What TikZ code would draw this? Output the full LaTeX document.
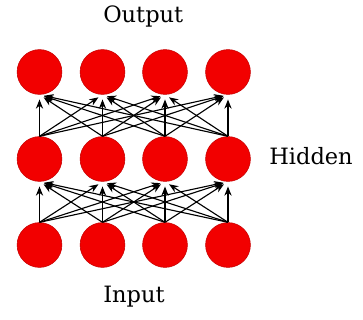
\documentclass[tikz,border=0pt]{standalone}
\usepackage{fontspec}
\setmainfont{DejaVu Serif}
\usetikzlibrary{arrows.meta}
\definecolor{unitred}{HTML}{F20000}
\definecolor{unitedge}{HTML}{C80000}

\begin{document}
\begin{tikzpicture}[
  x=0.025cm, y=-0.025cm,
  >={Stealth[length=2.3mm, width=1.8mm]},
  unit/.style={circle, draw=unitedge, line width=0.4pt, fill=unitred,
    minimum size=1.12cm, inner sep=0pt},
  wire/.style={->, line width=0.8pt, black, shorten >=1.2mm},
  lbl/.style={font=\fontsize{16}{18}\selectfont, text=black, inner sep=0pt},
]

\useasboundingbox (0,0) rectangle (363,320);

% === Units: o = output, h = hidden, i = input ===
\foreach \k/\x in {1/39.5, 2/102.5, 3/165, 4/228} {
  \node[unit] (o\k) at (\x,72) {};
  \node[unit] (h\k) at (\x,159) {};
  \node[unit] (i\k) at (\x,245) {};
}

% === Connections, every unit to every unit of the next layer ===
\foreach \a in {1,...,4}
  \foreach \b in {1,...,4} {
    \draw[wire] (i\a.north) -- (h\b.south);
    \draw[wire] (h\a.north) -- (o\b.south);
  }

% Layer labels
\node[lbl, anchor=base west] (outlbl) at (103,23) {Output};
\node[lbl, anchor=base west] (hidlbl) at (269,165) {Hidden};
\node[lbl, anchor=base west] (inlbl) at (103,303) {Input};

\end{tikzpicture}
\end{document}
